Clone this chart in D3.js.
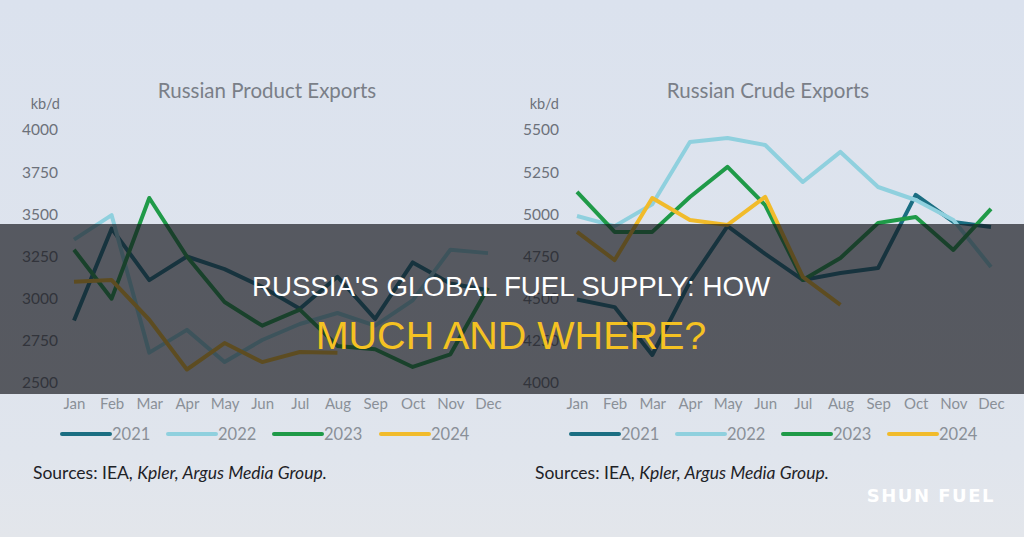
<!DOCTYPE html>
<html>
<head>
<meta charset="utf-8">
<script src="https://cdn.jsdelivr.net/npm/d3@7"></script>
<style>
  html, body { margin: 0; padding: 0; background: #dde3ee; }
  svg { display: block; }
</style>
</head>
<body>
<svg id="chart" width="1024" height="537"></svg>
<script>
// ---- data ----
const months = ["Jan","Feb","Mar","Apr","May","Jun","Jul","Aug","Sep","Oct","Nov","Dec"];
const years = ["2021","2022","2023","2024"];
const productTicks = [2500, 2750, 3000, 3250, 3500, 3750, 4000];
const crudeTicks = [4000, 4250, 4500, 4750, 5000, 5250, 5500];

const product2021 = [2870, 3415, 3110, 3250, 3175, 3070, 2940, 3130, 2880, 3215, 3090, 3050];
const product2022 = [3350, 3495, 2680, 2815, 2625, 2755, 2850, 2915, 2840, 2990, 3290, 3270];
const product2023 = [3290, 3000, 3597, 3250, 2980, 2840, 2935, 2720, 2700, 2595, 2670, 3065];
const product2024 = [3100, 3110, 2875, 2580, 2737, 2624, 2684, 2680];

const crude2021 = [4495, 4450, 4166, 4600, 4930, 4765, 4611, 4652, 4682, 5115, 4955, 4925];
const crude2022 = [4990, 4930, 5060, 5429, 5453, 5411, 5192, 5370, 5162, 5085, 4966, 4688];
const crude2023 = [5133, 4896, 4896, 5103, 5281, 5055, 4611, 4741, 4949, 4984, 4789, 5032];
const crude2024 = [4896, 4729, 5097, 4966, 4937, 5103, 4629, 4463];

const yearColors = ["#1b6e82", "#8fd0de", "#1f9a48", "#f1bb2b"];

const svg = d3.select("#chart");

// background
const defs = svg.append("defs");
const bg = defs.append("linearGradient").attr("id","bg").attr("x1",0).attr("y1",0).attr("x2",0).attr("y2",1);
bg.append("stop").attr("offset","0%").attr("stop-color","#dbe2ee");
bg.append("stop").attr("offset","85%").attr("stop-color","#e0e5ed");
bg.append("stop").attr("offset","100%").attr("stop-color","#e3e6eb");
svg.append("rect").attr("width",1024).attr("height",537).attr("fill","url(#bg)");

const FONT = "Lato, 'Open Sans', sans-serif";

function drawChart(opts) {
  const g = svg.append("g");
  const x = d3.scalePoint().domain(months).range([opts.x0, opts.x1]).padding(0);
  const y = d3.scaleLinear().domain(opts.domain).range([383, 130]);

  // title
  g.append("text").attr("x", opts.titleX).attr("y", 98)
    .attr("text-anchor","middle").attr("font-family", FONT).attr("font-size", 20.5)
    .attr("fill", "#7a7f88").text(opts.title);
  // unit
  g.append("text").attr("x", opts.unitX).attr("y", 109)
    .attr("text-anchor","end").attr("font-family", FONT).attr("font-size", 14.5)
    .attr("fill", "#6c717a").text("kb/d");

  // y axis
  const ya = g.append("g").attr("transform", `translate(${opts.yAxisX},0)`)
    .call(d3.axisLeft(y).tickValues(opts.ticks).tickSize(0).tickPadding(0).tickFormat(d3.format("d")));
  ya.select(".domain").remove();
  ya.selectAll("text").attr("font-family", FONT).attr("font-size", 15.5).attr("fill", "#6c717a");

  // x axis
  const xa = g.append("g").attr("transform", `translate(0,398)`)
    .call(d3.axisBottom(x).tickSize(0).tickPadding(0));
  xa.select(".domain").remove();
  xa.selectAll("text").attr("font-family", FONT).attr("font-size", 15).attr("fill", "#8a9098");

  // lines
  const line = d3.line().x((d, i) => x(months[i])).y(d => y(d));
  opts.series.forEach((s, k) => {
    g.append("path").datum(s).attr("d", line)
      .attr("fill","none").attr("stroke", yearColors[k]).attr("stroke-width", 4)
      .attr("stroke-linejoin","round").attr("stroke-linecap","butt");
  });

  // legend
  years.forEach((yr, k) => {
    const lx = opts.legendX[k];
    g.append("line").attr("x1", lx).attr("x2", lx + 48).attr("y1", 434).attr("y2", 434)
      .attr("stroke", yearColors[k]).attr("stroke-width", 4).attr("stroke-linecap","round");
    g.append("text").attr("x", lx + 50).attr("y", 440).attr("font-family", FONT)
      .attr("font-size", 16.5).attr("fill", "#8a9098").text(yr);
  });

  // sources
  const st = g.append("text").attr("x", opts.srcX).attr("y", 479).attr("font-family", FONT)
    .attr("font-size", 17.5).attr("fill", "#1e2227");
  st.append("tspan").text("Sources: IEA, ");
  st.append("tspan").attr("font-style","italic").text("Kpler, Argus Media Group.");
}

drawChart({
  title: "Russian Product Exports", titleX: 267, unitX: 60, yAxisX: 58,
  x0: 74, x1: 488, domain: [2500, 4000], ticks: productTicks,
  series: [product2021, product2022, product2023, product2024],
  legendX: [62, 168, 274, 381], srcX: 33
});
drawChart({
  title: "Russian Crude Exports", titleX: 768, unitX: 559, yAxisX: 559,
  x0: 577, x1: 991, domain: [4000, 5500], ticks: crudeTicks,
  series: [crude2021, crude2022, crude2023, crude2024],
  legendX: [571, 677, 783, 889], srcX: 535
});

// overlay band with headline
svg.append("rect").attr("x", 0).attr("y", 224).attr("width", 1024).attr("height", 170)
  .attr("fill", "rgba(22,24,30,0.68)");
svg.append("text").attr("x", 511).attr("y", 296).attr("text-anchor","middle")
  .attr("font-family","'Liberation Sans', Arial, sans-serif").attr("font-size", 27.7)
  .attr("fill","#ffffff").text("RUSSIA'S GLOBAL FUEL SUPPLY: HOW");
svg.append("text").attr("x", 511).attr("y", 349).attr("text-anchor","middle")
  .attr("font-family","'Liberation Sans', Arial, sans-serif").attr("font-size", 39.5)
  .attr("fill","#f5c222").text("MUCH AND WHERE?");

// watermark
svg.append("text").attr("x", 995).attr("y", 502).attr("text-anchor","end")
  .attr("font-family","'DejaVu Sans', sans-serif").attr("font-weight","bold").attr("font-size", 18)
  .attr("letter-spacing", 1.5).attr("fill","#ffffff").text("SHUN FUEL");
</script>
</body>
</html>
